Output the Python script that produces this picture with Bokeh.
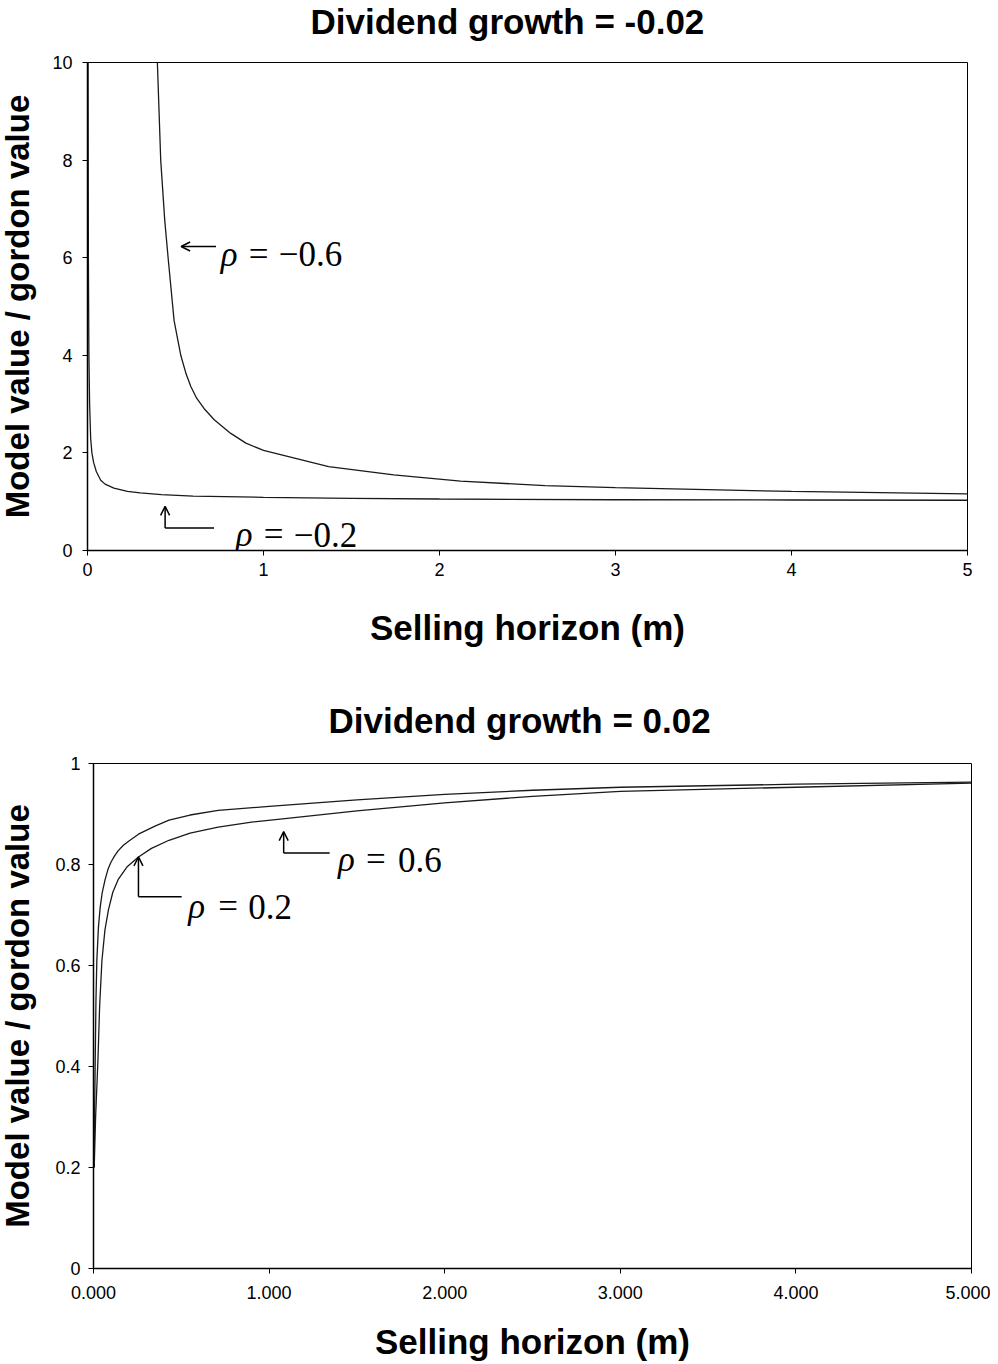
from bokeh.plotting import figure
from bokeh.models import Range1d, FixedTicker, NumeralTickFormatter, Label, Arrow, OpenHead
from bokeh.embed import file_html
from bokeh.resources import INLINE

# ---------------- data: top panel (dividend growth = -0.02) ----------------
top_title = "Dividend growth = -0.02"
top_x_ticks = [0, 1, 2, 3, 4, 5]
top_y_ticks = [0, 2, 4, 6, 8, 10]

x_rho_m02 = [0.003, 0.005, 0.008, 0.012, 0.018, 0.025, 0.035, 0.05, 0.075, 0.1, 0.15,
             0.227, 0.3, 0.42, 0.6, 1.0, 1.5, 2.0, 3.0, 4.0, 5.0]
y_rho_m02 = [10.5, 6.0, 4.0, 3.0, 2.3, 2.0, 1.8, 1.62, 1.44, 1.36, 1.28,
             1.21, 1.18, 1.145, 1.115, 1.09, 1.07, 1.055, 1.04, 1.035, 1.03]

x_rho_m06 = [0.39, 0.397, 0.416, 0.439, 0.458, 0.492, 0.53, 0.56, 0.587, 0.62, 0.662,
             0.72, 0.814, 0.9, 1.0, 1.37, 1.74, 2.12, 2.6, 3.0, 4.0, 5.0]
y_rho_m06 = [10.5, 10.0, 8.0, 6.76, 6.0, 4.71, 4.0, 3.62, 3.36, 3.12, 2.91,
             2.68, 2.40, 2.2, 2.05, 1.72, 1.55, 1.42, 1.33, 1.29, 1.21, 1.16]

# ---------------- data: bottom panel (dividend growth = 0.02) ----------------
bot_title = "Dividend growth = 0.02"
bot_x_ticks = [0, 1, 2, 3, 4, 5]
bot_y_ticks = [0, 0.2, 0.4, 0.6, 0.8, 1.0]
bot_y_labels = ["0", "0.2", "0.4", "0.6", "0.8", "1"]

x_rho_p02 = [0.004, 0.006, 0.0097, 0.014, 0.019, 0.028, 0.038, 0.05, 0.066, 0.082, 0.1, 0.12, 0.14,
             0.17, 0.2, 0.256, 0.35, 0.43, 0.55, 0.71, 1.0, 1.5, 2.0, 2.5, 3.0, 4.0, 5.0]
y_rho_p02 = [0.20, 0.30, 0.41, 0.53, 0.61, 0.675, 0.715, 0.745, 0.77, 0.79, 0.805, 0.817, 0.827,
             0.838, 0.846, 0.86, 0.876, 0.888, 0.898, 0.907, 0.915, 0.928, 0.939, 0.947, 0.953, 0.959, 0.963]

x_rho_p06 = [0.004, 0.012, 0.025, 0.035, 0.048, 0.065, 0.085, 0.11, 0.14, 0.19, 0.256,
             0.33, 0.43, 0.55, 0.71, 0.9, 1.09, 1.5, 2.0, 2.5, 3.0, 4.0, 5.0]
y_rho_p06 = [0.20, 0.30, 0.41, 0.52, 0.61, 0.67, 0.71, 0.745, 0.77, 0.795, 0.815,
             0.832, 0.848, 0.862, 0.874, 0.884, 0.891, 0.906, 0.922, 0.935, 0.945, 0.953, 0.961]

SANS = "Liberation Sans"
SERIF = "Liberation Serif"
LINE_COLOR = "#1a1a1a"
Y_LABEL = "Model value / gordon value"
X_LABEL = "Selling horizon (m)"


def style(p, title_offset, title_standoff, xlab_standoff, xaxis_standoff, ylab_standoff, yaxis_standoff):
    p.background_fill_color = "white"
    p.border_fill_color = "white"
    p.outline_line_color = "black"
    p.outline_line_width = 1
    p.xgrid.visible = False
    p.ygrid.visible = False
    for ax in (p.xaxis[0], p.yaxis[0]):
        ax.axis_line_color = "black"
        ax.axis_line_width = 1.5
        ax.major_tick_line_color = "black"
        ax.major_tick_line_width = 1
        ax.major_tick_out = 5
        ax.major_tick_in = 0
        ax.minor_tick_line_color = None
        ax.major_label_text_font = SANS
        ax.major_label_text_font_size = "18px"
        ax.major_label_text_color = "black"
        ax.axis_label_text_font = SANS
        ax.axis_label_text_font_style = "bold"
        ax.axis_label_text_color = "black"
    xa, ya = p.xaxis[0], p.yaxis[0]
    xa.axis_label = X_LABEL
    xa.axis_label_text_font_size = "35px"
    xa.major_label_standoff = xlab_standoff
    xa.axis_label_standoff = xaxis_standoff
    ya.axis_label = Y_LABEL
    ya.axis_label_text_font_size = "33px"
    ya.major_label_standoff = ylab_standoff
    ya.axis_label_standoff = yaxis_standoff
    p.title.text_font = SANS
    p.title.text_font_size = "35px"
    p.title.text_font_style = "bold"
    p.title.text_color = "black"
    p.title.align = "left"
    p.title.offset = title_offset
    p.title.standoff = title_standoff


def rho_label(p, x, y, value_text, eq_off=28, val_off=58, size="35px"):
    p.add_layout(Label(x=x, y=y, text="\u03c1", text_font=SERIF, text_font_style="italic",
                       text_font_size=size, text_baseline="alphabetic", text_align="left",
                       text_color="black"))
    p.add_layout(Label(x=x, y=y, x_offset=eq_off, text="=", text_font=SERIF,
                       text_font_size=size, text_baseline="alphabetic", text_align="left",
                       text_color="black"))
    p.add_layout(Label(x=x, y=y, x_offset=val_off, text=value_text, text_font=SERIF,
                       text_font_size=size, text_baseline="alphabetic", text_align="left",
                       text_color="black"))


def l_arrow(p, x, y0, y1, x_end):
    p.add_layout(Arrow(end=OpenHead(size=9, line_width=1.5, line_color="black"),
                       x_start=x, y_start=y0, x_end=x, y_end=y1,
                       line_width=1.5, line_color="black"))
    p.add_layout(Arrow(end=None, x_start=x, y_start=y0, x_end=x_end, y_end=y0,
                       line_width=1.5, line_color="black"))


# ---------------- top figure ----------------
p1 = figure(width=996, height=672, x_range=Range1d(0, 5), y_range=Range1d(0, 10),
            output_backend="svg", toolbar_location=None, title=top_title,
            min_border_left=93, min_border_right=23, min_border_top=85, min_border_bottom=96)
p1.styles = {"margin-top": "-23px", "margin-left": "-6px"}
style(p1, 223, 43, 7, 29, 10, 13)
p1.xaxis[0].ticker = FixedTicker(ticks=top_x_ticks, minor_ticks=[])
p1.yaxis[0].ticker = FixedTicker(ticks=top_y_ticks, minor_ticks=[])

p1.line(x_rho_m02, y_rho_m02, line_color=LINE_COLOR, line_width=1.3)
p1.line(x_rho_m06, y_rho_m06, line_color=LINE_COLOR, line_width=1.3)

p1.add_layout(Arrow(end=OpenHead(size=9, line_width=1.5, line_color="black"),
                    x_start=0.73, y_start=6.23, x_end=0.532, y_end=6.23,
                    line_width=1.5, line_color="black"))
rho_label(p1, 0.757, 6.07, "\u22120.6")
l_arrow(p1, 0.441, 0.463, 0.905, 0.719)
rho_label(p1, 0.842, 0.326, "\u22120.2")

# ---------------- bottom figure ----------------
p2 = figure(width=996, height=714, x_range=Range1d(0, 5), y_range=Range1d(0, 1),
            output_backend="svg", toolbar_location=None, title=bot_title,
            min_border_left=99, min_border_right=19, min_border_top=114, min_border_bottom=95)
p2.styles = {"margin-left": "-6px"}
style(p2, 235, 48, 12, 20, 8, 16)
p2.xaxis[0].ticker = FixedTicker(ticks=bot_x_ticks, minor_ticks=[])
p2.xaxis[0].formatter = NumeralTickFormatter(format="0.000")
p2.yaxis[0].ticker = FixedTicker(ticks=bot_y_ticks, minor_ticks=[])
p2.yaxis[0].major_label_overrides = {t: l for t, l in zip(bot_y_ticks, bot_y_labels)}

p2.line(x_rho_p02, y_rho_p02, line_color=LINE_COLOR, line_width=1.3)
p2.line(x_rho_p06, y_rho_p06, line_color=LINE_COLOR, line_width=1.3)

l_arrow(p2, 0.256, 0.736, 0.815, 0.502)
rho_label(p2, 0.54, 0.716, "0.2", eq_off=30, val_off=60)
l_arrow(p2, 1.083, 0.823, 0.865, 1.345)
rho_label(p2, 1.392, 0.809, "0.6", eq_off=28, val_off=60)

open("out.html", "w").write(file_html([p1, p2], INLINE))
